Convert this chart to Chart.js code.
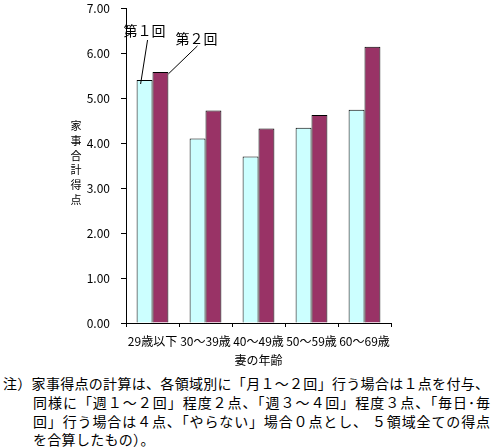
<!DOCTYPE html>
<html><head><meta charset="utf-8">
<script src="https://cdn.jsdelivr.net/npm/chart.js@4/dist/chart.umd.min.js"></script>
<style>
html,body{margin:0;padding:0;background:#fff;}
body{width:497px;height:448px;position:relative;overflow:hidden;font-family:"Noto Sans CJK JP",sans-serif;color:#000;}
#c{position:absolute;left:0;top:0;}
#ytitle{position:absolute;left:70px;top:118px;font-size:11px;line-height:14.8px;width:12px;text-align:center;}
.note{position:absolute;font-size:14px;line-height:19px;height:19px;white-space:nowrap;}
.j{text-align:justify;text-align-last:justify;white-space:normal;}
</style></head><body>
<canvas id="c" width="497" height="372"></canvas>
<div id="ytitle">家<br>事<br>合<br>計<br>得<br>点</div>
<div class="note j" style="left:3px;top:374px;width:486px;">注）家事得点の計算は、各領域別に「月１～２回」行う場合は１点を付与、</div>
<div class="note j" style="left:33px;top:393px;width:457px;">同様に「週１～２回」程度２点、「週３～４回」程度３点、「毎日･毎</div>
<div class="note j" style="left:33px;top:412px;width:457px;">回」行う場合は４点、「やらない」場合０点とし、 ５領域全ての得点</div>
<div class="note" style="left:33px;top:430px;letter-spacing:0.3px;">を合算したもの）。</div>
<script>
const categories = ["29歳以下", "30～39歳", "40～49歳", "50～59歳", "60～69歳"];
const series1Name = "第１回";
const series2Name = "第２回";
const series1 = [5.40, 4.10, 3.70, 4.34, 4.74];
const series2 = [5.58, 4.72, 4.32, 4.62, 6.14];
const yTicks = [0, 1, 2, 3, 4, 5, 6, 7];
const xTitle = "妻の年齢";

const FONT = '"Noto Sans CJK JP", sans-serif';

const leaderPlugin = {
  id: 'leaders',
  afterDatasetsDraw(chart) {
    const ctx = chart.ctx;
    const b1 = chart.getDatasetMeta(0).data[0];
    const b2 = chart.getDatasetMeta(1).data[0];
    if (!b1 || !b2) return;
    const w1 = b1.width, w2 = b2.width;
    ctx.save();
    ctx.strokeStyle = '#000';
    ctx.lineWidth = 1;
    ctx.beginPath();
    ctx.moveTo(b1.x + 3, b1.y - 40);
    ctx.lineTo(b1.x - w1 / 2 + 4, b1.y + 4);
    ctx.moveTo(b2.x + 37, b2.y - 26);
    ctx.lineTo(b2.x + w2 / 2, b2.y + 2);
    ctx.stroke();
    ctx.fillStyle = '#000';
    ctx.font = '14px ' + FONT;
    ctx.textAlign = 'center';
    ctx.textBaseline = 'middle';
    ctx.fillText(series1Name, b1.x, b1.y - 49);
    ctx.fillText(series2Name, b2.x + 36, b2.y - 33);
    ctx.restore();
  }
};

new Chart(document.getElementById('c'), {
  type: 'bar',
  data: {
    labels: categories,
    datasets: [
      { label: series1Name, data: series1, backgroundColor: '#CCFFFF', borderColor: '#000', borderWidth: 1 },
      { label: series2Name, data: series2, backgroundColor: '#993366', borderColor: '#000', borderWidth: 1 }
    ]
  },
  options: {
    responsive: false,
    animation: false,
    devicePixelRatio: 1,
    layout: { padding: { top: 0, right: 106, left: 0, bottom: 0 } },
    plugins: { legend: { display: false }, tooltip: { enabled: false } },
    datasets: { bar: { categoryPercentage: 0.6, barPercentage: 1.0 } },
    scales: {
      x: {
        grid: { display: true, drawOnChartArea: false, drawTicks: true, tickLength: 4, color: '#000', offset: true },
        border: { color: '#000', width: 1 },
        ticks: { color: '#000', font: { family: FONT, size: 12 }, padding: 7, maxRotation: 0, autoSkip: false },
        title: { display: true, text: xTitle, color: '#000', font: { family: FONT, size: 12 }, padding: { top: 2, bottom: 4 } },
        afterFit(s) { s.height = 49; }
      },
      y: {
        min: 0, max: 7,
        afterBuildTicks(s) { s.ticks = yTicks.map(v => ({ value: v })); },
        grid: { display: true, drawOnChartArea: false, drawTicks: true, tickLength: 5, color: '#000' },
        border: { color: '#000', width: 1 },
        ticks: { color: '#000', font: { family: FONT, size: 12 }, padding: 11, callback: v => Number(v).toFixed(2) },
        afterFit(s) { s.width = 126; s.paddingTop = 8; s.paddingBottom = 0; }
      }
    }
  },
  plugins: [leaderPlugin]
});
</script>
</body></html>
